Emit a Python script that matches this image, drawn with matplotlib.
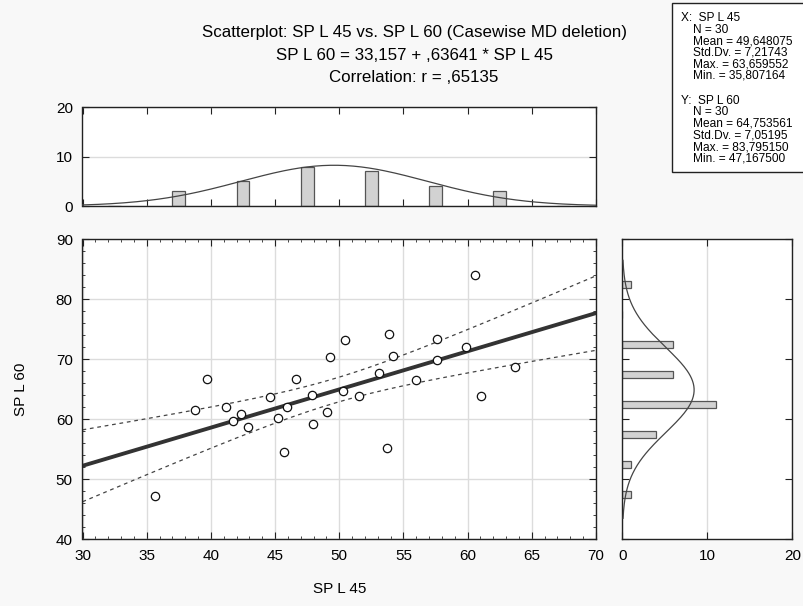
import numpy as np
import matplotlib
matplotlib.use('Agg')
import matplotlib.pyplot as plt
from matplotlib.patches import Rectangle
from matplotlib.ticker import MultipleLocator

# data
sp45 = [35.65, 39.70, 38.79, 41.18, 42.32, 41.75, 42.92, 44.63, 46.65, 45.93,
        45.23, 45.72, 47.85, 47.93, 49.07, 49.28, 50.47, 50.27, 51.56, 53.07,
        53.90, 54.20, 53.69, 56.00, 57.59, 57.59, 59.89, 60.55, 61.04, 63.68]
sp60 = [47.30, 66.67, 61.50, 62.10, 60.90, 59.70, 58.67, 63.67, 66.67, 62.00,
        60.17, 54.60, 64.10, 59.17, 61.27, 70.33, 73.17, 64.72, 63.88, 67.77,
        74.20, 70.50, 55.27, 66.50, 73.38, 69.90, 72.00, 84.10, 63.88, 68.77]
intercept = 33.157
slope = 0.63641
x_bins = [30, 35, 40, 45, 50, 55, 60, 65, 70]
y_bins = [45, 50, 55, 60, 65, 70, 75, 80, 85]

title_lines = ["Scatterplot: SP L 45 vs. SP L 60 (Casewise MD deletion)",
               "SP L 60 = 33,157 + ,63641 * SP L 45",
               "Correlation: r = ,65135"]
stats_x = ["X:  SP L 45", "N = 30", "Mean = 49,648075", "Std.Dv. = 7,21743",
           "Max. = 63,659552", "Min. = 35,807164"]
stats_y = ["Y:  SP L 60", "N = 30", "Mean = 64,753561", "Std.Dv. = 7,05195",
           "Max. = 83,795150", "Min. = 47,167500"]

plt.rcParams['font.family'] = ['Liberation Sans', 'DejaVu Sans']
x = np.array(sp45)
y = np.array(sp60)
n = len(x)

W, H = 804, 606
fig = plt.figure(figsize=(W / 100, H / 100), dpi=100, facecolor='#f8f8f8')


def box(l, t, r, b):
    return [l / W, 1 - b / H, (r - l) / W, (b - t) / H]


ax = fig.add_axes(box(82.5, 239.3, 596, 539.3))
axt = fig.add_axes(box(82.5, 107.3, 596, 206))
axr = fig.add_axes(box(622.3, 239.3, 792.3, 539.3))

grid_c = '#dcdcdc'
bar_fc = '#d2d2d2'
bar_ec = '#555555'

# main scatter
ax.set_xlim(30, 70)
ax.set_ylim(40, 90)
ax.xaxis.set_major_locator(MultipleLocator(5))
ax.xaxis.set_minor_locator(MultipleLocator(1))
ax.yaxis.set_major_locator(MultipleLocator(10))
ax.yaxis.set_minor_locator(MultipleLocator(2))
ax.grid(True, which='major', color=grid_c, lw=1)
ax.set_axisbelow(True)
ax.tick_params(which='both', direction='in', top=True, right=True, color='#222')
ax.tick_params(which='major', length=5, labelsize=11, pad=7)
ax.tick_params(which='minor', length=2.5)

xs = np.linspace(30, 70, 200)
fit = intercept + slope * xs
resid = y - (intercept + slope * x)
se = np.sqrt(np.sum(resid ** 2) / (n - 2))
sxx = np.sum((x - x.mean()) ** 2)
band = 2.048 * se * np.sqrt(1 / n + (xs - x.mean()) ** 2 / sxx)
ax.plot(xs, fit + band, ls=(0, (3, 3)), color='#444', lw=0.9)
ax.plot(xs, fit - band, ls=(0, (3, 3)), color='#444', lw=0.9)
ax.plot(xs, fit, color='#333', lw=2.8)
ax.plot(x, y, 'o', mfc='white', mec='#111', ms=6, mew=0.9)
ax.set_xlabel("SP L 45", fontsize=11, labelpad=14)
ax.set_ylabel("SP L 60", fontsize=11, labelpad=20)

# top histogram
cx, _ = np.histogram(x, bins=x_bins)
mids_x = np.array(x_bins[:-1]) + 2.5
axt.bar(mids_x, cx, width=1.0, color=bar_fc, edgecolor=bar_ec, lw=0.9, zorder=2)
gx = np.linspace(30, 70, 200)
sx = x.std(ddof=1)
axt.plot(gx, n * 5 * np.exp(-0.5 * ((gx - x.mean()) / sx) ** 2) / (sx * np.sqrt(2 * np.pi)),
         color='#444', lw=0.9, zorder=3)
axt.set_xlim(30, 70)
axt.set_ylim(0, 20)
axt.set_yticks([0, 10, 20])
axt.xaxis.set_major_locator(MultipleLocator(5))
axt.grid(True, axis='y', color=grid_c, lw=1)
axt.set_axisbelow(True)
axt.tick_params(direction='in', top=True, right=True, length=5, labelsize=11,
                labelbottom=False, color='#222', pad=7)

# right histogram
cy, _ = np.histogram(y, bins=y_bins)
mids_y = np.array(y_bins[:-1]) + 2.5
axr.barh(mids_y, cy, height=1.1, color=bar_fc, edgecolor=bar_ec, lw=0.9, zorder=2)
gy = np.linspace(43.5, 86.5, 200)
sy = y.std(ddof=1)
axr.plot(n * 5 * np.exp(-0.5 * ((gy - y.mean()) / sy) ** 2) / (sy * np.sqrt(2 * np.pi)), gy,
         color='#444', lw=0.9, zorder=3)
axr.set_ylim(40, 90)
axr.set_xlim(0, 20)
axr.set_xticks([0, 10, 20])
axr.yaxis.set_major_locator(MultipleLocator(10))
axr.grid(True, axis='x', color=grid_c, lw=1)
axr.set_axisbelow(True)
axr.tick_params(direction='in', top=True, right=True, length=5, labelsize=11,
                labelleft=False, color='#222', pad=7)

for a in (ax, axt, axr):
    for s in a.spines.values():
        s.set_color('#222')
        s.set_linewidth(1)

# titles
for i, line in enumerate(title_lines):
    fig.text(414 / W, 1 - (33 + 22.5 * i) / H, line, ha='center', va='center', fontsize=12.2)

# stats box
fig.patches.append(Rectangle((672 / W, 1 - 172 / H), 140 / W, 169 / H,
                             transform=fig.transFigure, facecolor='white',
                             edgecolor='#222', lw=1))
ys = 18
for block in (stats_x, stats_y):
    for j, line in enumerate(block):
        xpos = 681 if j == 0 else 693
        fig.text(xpos / W, 1 - ys / H, line, ha='left', va='center', fontsize=8.6)
        ys += 11.6
    ys += 13.2

fig.savefig('out.png', dpi=100, facecolor=fig.get_facecolor())
